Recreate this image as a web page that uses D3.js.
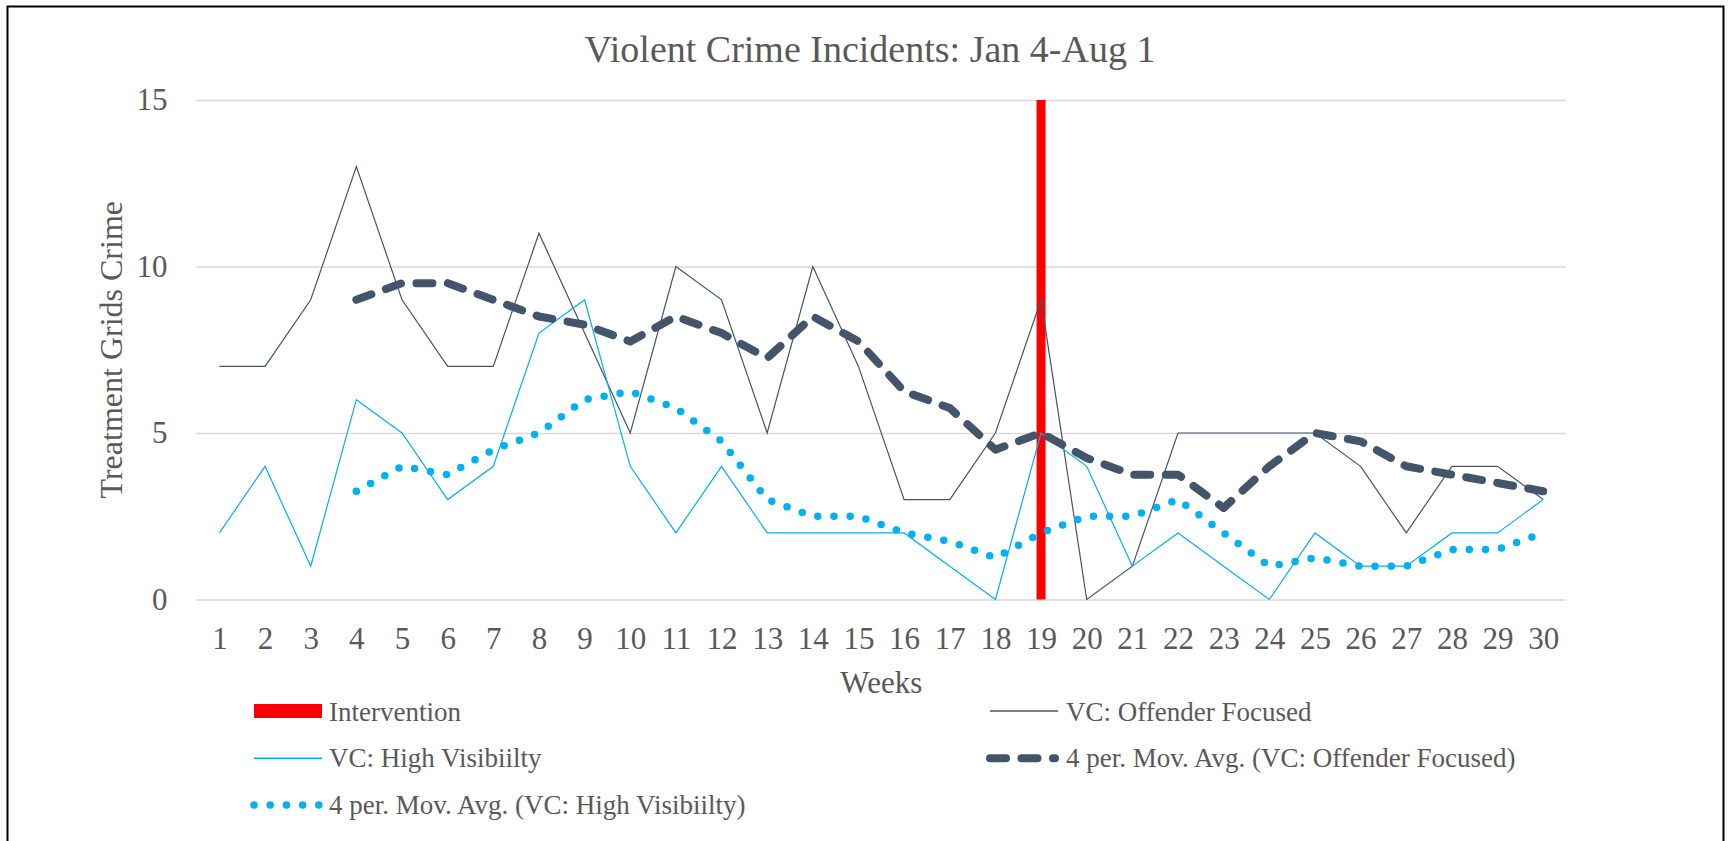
<!DOCTYPE html>
<html>
  <head>
    <meta charset="utf-8">
    <script src="https://d3js.org/d3.v7.min.js"></script>
    <title>Violent Crime Incidents</title>
    <style>
      body { margin: 0; background: #fff; }
      text { font-family: "Liberation Serif", "Times New Roman", serif; fill: #595959; }
    </style>
  </head>
  <body>
    <div id="plot"></div>
    <script>

    // data
    const weeks = d3.range(1, 31);
    const offenderFocused = [7, 7, 9, 13, 9, 7, 7, 11, 8, 5, 10, 9, 5, 10, 7, 3, 3, 5, 9, 0, 1, 5, 5, 5, 5, 4, 2, 4, 4, 3];
    const highVisibility = [2, 4, 1, 6, 5, 3, 4, 8, 9, 4, 2, 4, 2, 2, 2, 2, 1, 0, 5, 4, 1, 2, 1, 0, 2, 1, 1, 2, 2, 3];
    // 4 period moving average trendlines (start at week 4)
    const maOffender = [null, null, null, 9, 9.5, 9.5, 9, 8.5, 8.25, 7.75, 8.5, 8, 7.25, 8.5, 7.75, 6.25, 5.75, 4.5, 5, 4.25, 3.75, 3.75, 2.75, 4, 5, 4.75, 4, 3.75, 3.5, 3.25];
    const maHighVis = [null, null, null, 3.25, 4, 3.75, 4.5, 5, 6, 6.25, 5.75, 4.75, 3, 2.5, 2.5, 2, 1.75, 1.25, 2, 2.5, 2.5, 3, 2, 1, 1.25, 1, 1, 1.5, 1.5, 2];
    const interventionWeek = 19;
    const interventionValue = 15;
    const yTicks = [0, 5, 10, 15];

    const W = 1732, H = 841;
    const plotLeft = 196.6, plotRight = 1566, plotTop = 100, plotBottom = 599.5;

    const svg = d3.select("#plot")
      .append("svg")
        .attr("width", W)
        .attr("height", H);

    // outer border
    svg.append("rect")
      .attr("x", 7.5).attr("y", 6.5)
      .attr("width", 1716).attr("height", 900)
      .attr("fill", "none")
      .attr("stroke", "#000")
      .attr("stroke-width", 2);

    const x = d3.scalePoint()
      .domain(weeks)
      .range([plotLeft, plotRight])
      .padding(0.5);

    const y = d3.scaleLinear()
      .domain([0, 15])
      .range([plotBottom, plotTop]);

    // grid
    svg.append("g")
      .attr("transform", "translate(" + plotLeft + ",0)")
      .call(d3.axisLeft(y).tickValues(yTicks).tickSize(-(plotRight - plotLeft)).tickFormat(""))
      .call(g => g.select(".domain").remove())
      .call(g => g.selectAll("line").attr("stroke", "#D9D9D9").attr("stroke-width", 1.5));

    // y axis labels
    svg.append("g")
      .attr("transform", "translate(" + plotLeft + ",0)")
      .call(d3.axisLeft(y).tickValues(yTicks).tickSize(0).tickPadding(29))
      .call(g => g.select(".domain").remove())
      .call(g => g.selectAll("text")
        .style("font-family", "Liberation Serif")
        .style("font-size", "31px")
        .attr("fill", "#595959"));

    // x axis labels
    svg.append("g")
      .attr("transform", "translate(0," + plotBottom + ")")
      .call(d3.axisBottom(x).tickSize(0).tickPadding(27))
      .call(g => g.select(".domain").remove())
      .call(g => g.selectAll("text")
        .style("font-family", "Liberation Serif")
        .style("font-size", "31px")
        .attr("fill", "#595959"));

    // intervention bar
    svg.append("rect")
      .attr("x", x(interventionWeek) - 4.5)
      .attr("y", y(interventionValue))
      .attr("width", 9)
      .attr("height", y(0) - y(interventionValue))
      .attr("fill", "#FF0000");

    const line = d3.line()
      .defined(d => d[1] != null)
      .x(d => x(d[0]))
      .y(d => y(d[1]));

    // thin series
    svg.append("path")
      .datum(weeks.map((w, i) => [w, offenderFocused[i]]))
      .attr("d", line)
      .attr("fill", "none")
      .attr("stroke", "#44546A")
      .attr("stroke-width", 1.2);

    svg.append("path")
      .datum(weeks.map((w, i) => [w, highVisibility[i]]))
      .attr("d", line)
      .attr("fill", "none")
      .attr("stroke", "#00B0F0")
      .attr("stroke-width", 1.2);

    // moving averages
    svg.append("path")
      .datum(weeks.map((w, i) => [w, maOffender[i]]))
      .attr("d", line)
      .attr("fill", "none")
      .attr("stroke", "#44546A")
      .attr("stroke-width", 8)
      .attr("stroke-linecap", "round")
      .attr("stroke-linejoin", "round")
      .attr("stroke-dasharray", "16 15.5");

    svg.append("path")
      .datum(weeks.map((w, i) => [w, maHighVis[i]]))
      .attr("d", line)
      .attr("fill", "none")
      .attr("stroke", "#00B0F0")
      .attr("stroke-width", 7.5)
      .attr("stroke-linecap", "round")
      .attr("stroke-dasharray", "0 16.2");

    // title
    svg.append("text")
      .text("Violent Crime Incidents: Jan 4-Aug 1")
      .attr("x", 870)
      .attr("y", 62)
      .attr("text-anchor", "middle")
      .style("font-size", "38px");

    // axis titles
    svg.append("text")
      .text("Treatment Grids Crime")
      .attr("transform", "translate(122," + (plotTop + plotBottom) / 2 + ") rotate(-90)")
      .attr("text-anchor", "middle")
      .style("font-size", "32px");

    svg.append("text")
      .text("Weeks")
      .attr("x", (plotLeft + plotRight) / 2)
      .attr("y", 693)
      .attr("text-anchor", "middle")
      .style("font-size", "31px");

    // legend
    const legend = svg.append("g").style("font-size", "27px");

    legend.append("rect")
      .attr("x", 254).attr("y", 704)
      .attr("width", 68).attr("height", 14)
      .attr("fill", "#FF0000");
    legend.append("text").text("Intervention").attr("x", 329).attr("y", 720.5);

    legend.append("line")
      .attr("x1", 254).attr("x2", 322).attr("y1", 758.3).attr("y2", 758.3)
      .attr("stroke", "#00B0F0").attr("stroke-width", 1.5);
    legend.append("text").text("VC: High Visibiilty").attr("x", 329).attr("y", 767.3);

    legend.append("line")
      .attr("x1", 254).attr("x2", 322).attr("y1", 805).attr("y2", 805)
      .attr("stroke", "#00B0F0").attr("stroke-width", 7.5)
      .attr("stroke-linecap", "round").attr("stroke-dasharray", "0 16.2");
    legend.append("text").text("4 per. Mov. Avg. (VC: High Visibiilty)").attr("x", 329).attr("y", 814);

    legend.append("line")
      .attr("x1", 990).attr("x2", 1058).attr("y1", 711).attr("y2", 711)
      .attr("stroke", "#44546A").attr("stroke-width", 1.5);
    legend.append("text").text("VC: Offender Focused").attr("x", 1066).attr("y", 720.5);

    legend.append("line")
      .attr("x1", 990).attr("x2", 1055).attr("y1", 758.3).attr("y2", 758.3)
      .attr("stroke", "#44546A").attr("stroke-width", 8)
      .attr("stroke-linecap", "round").attr("stroke-dasharray", "16 15.5");
    legend.append("text").text("4 per. Mov. Avg. (VC: Offender Focused)").attr("x", 1066).attr("y", 767.3);

    </script>
  </body>
</html>
